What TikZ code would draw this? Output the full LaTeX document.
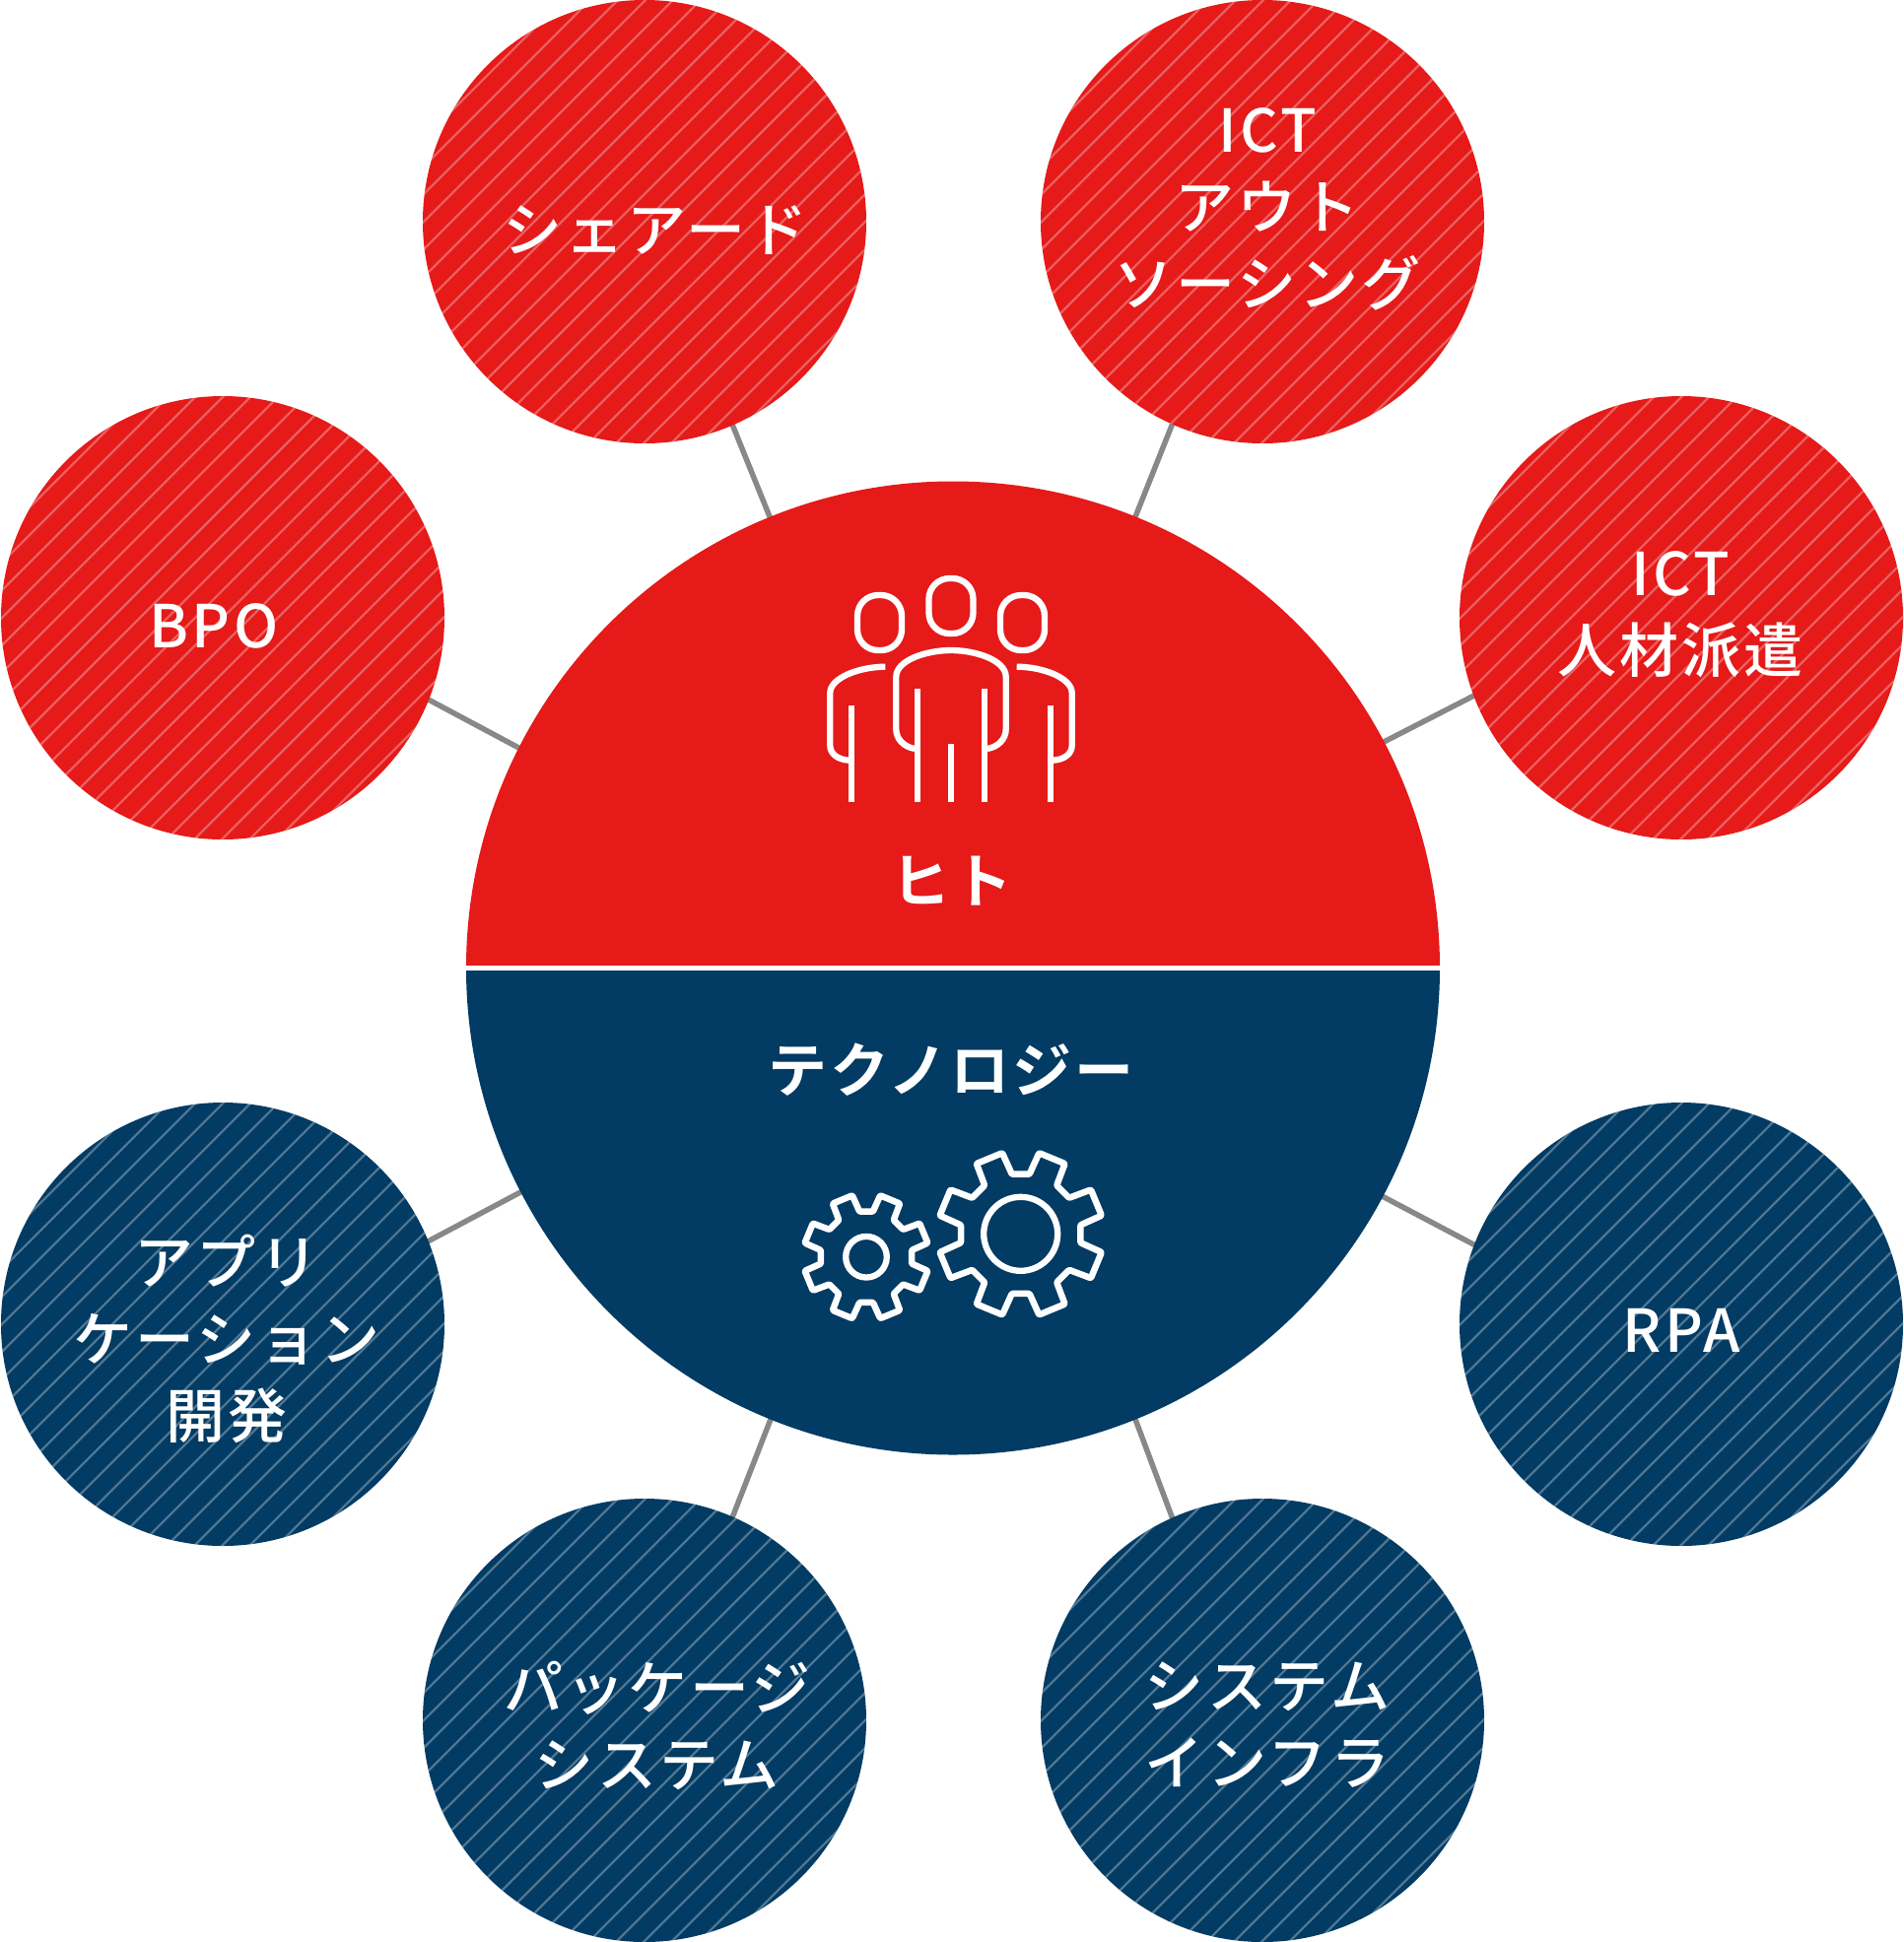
\documentclass[tikz,border=0pt]{standalone}
\usepackage{fontspec}
\setmainfont{Noto Sans CJK JP Medium}[LetterSpace=5.5]
\newfontfamily\headfont{Noto Sans CJK JP Bold}[LetterSpace=5]
\usetikzlibrary{backgrounds}
\definecolor{redc}{HTML}{E51A19}
\definecolor{navyc}{HTML}{023B63}
\definecolor{linkc}{HTML}{888888}
\tikzset{
  x=1pt,y=-1pt,
  hatchline/.style={draw=white,opacity=0.3,line width=2.2pt},
  sat/.style={circle,minimum size=450pt,inner sep=0pt,outer sep=0pt,
    path picture={\begin{scope}[shift={(path picture bounding box.center)}]
      \foreach \d in {-392,-364,...,392}{\draw[hatchline] (-300+\d,300)--(300+\d,-300);}
    \end{scope}}},
  redsat/.style={sat,fill=redc},
  navysat/.style={sat,fill=navyc},
  lab/.style={text=white,align=center,font=\fontsize{60}{78}\selectfont,inner sep=0pt},
  head/.style={text=white,align=center,font=\fontsize{60}{78}\selectfont\headfont,inner sep=0pt},
  link/.style={draw=linkc,line width=5.5pt,shorten <=-3pt,shorten >=-3pt},
  icon/.style={draw=white,line width=6.3pt},
  gearline/.style={draw=white,rounded corners=1pt,line join=round},
}
\newcommand{\gearpath}[3]{%
  \begin{scope}[shift={(#1,#2)},scale=#3]
  \draw[gearline,line width=6.5pt] (22.5-14.1:61.3)
    \foreach \t in {22.5,67.5,112.5,157.5,202.5,247.5,292.5,337.5}{
      -- (\t-14.1:61.3) -- (\t-9.7:84.2) -- (\t+9.7:84.2) -- (\t+14.1:61.3)
    } -- cycle;
  \end{scope}}
\newcommand{\spoke}[3]{\draw[link] ([shift={(#2:225pt)}]#1.center) -- ([shift={(#3:494pt)}]hub.center);}
\begin{document}
\begin{tikzpicture}
\useasboundingbox (0,0) rectangle (1932,1971);
% hub
\node[circle,minimum size=988pt,inner sep=0pt,outer sep=0pt] (hub) at (967,982.5) {};
\begin{scope}
  \clip (0,0) rectangle (1932,979.5);
  \fill[redc] (hub.center) circle[radius=494pt];
\end{scope}
\begin{scope}
  \clip (0,985) rectangle (1932,1971);
  \fill[navyc] (hub.center) circle[radius=494pt];
\end{scope}
% satellites
\node[redsat] (bpo) at (226,627) {};
\node[redsat] (shared) at (654,225) {};
\node[redsat] (ictout) at (1281,225) {};
\node[redsat] (ictstaff) at (1706,627) {};
\node[navysat] (app) at (226,1344) {};
\node[navysat] (pkg) at (654,1746) {};
\node[navysat] (sys) at (1281,1746) {};
\node[navysat] (rpa) at (1706,1344) {};
% connectors
\begin{pgfonlayer}{background}
\spoke{bpo}{-21.7}{153.1}
\spoke{shared}{-66.6}{112.1}
\spoke{ictout}{-114}{68}
\spoke{ictstaff}{-159.4}{27.7}
\spoke{app}{22}{207.4}
\spoke{pkg}{66.6}{248}
\spoke{sys}{114}{-68}
\spoke{rpa}{159}{-28}
\end{pgfonlayer}
% labels
\node[lab] (tbpo) at (217,635) {BPO};
\node[lab] (tshared) at (665,234) {シェアード};
\node[lab] (tictout) at (1286,212) {ICT\\アウト\\ソーシング};
\node[lab] (tictstaff) at (1705,624) {ICT\\人材派遣};
\node[lab] (tapp) at (230,1359) {アプリ\\ケーション\\開発};
\node[lab] (tpkg) at (667,1751) {パッケージ\\システム};
\node[lab] (tsys) at (1286,1751) {システム\\インフラ};
\node[lab] (trpa) at (1706,1350) {RPA};
\node[head] (thito) at (966,894) {ヒト};
\node[head] (ttech) at (965,1086) {テクノロジー};
% people icon
\draw[icon,rounded corners=21pt] (870,604) rectangle (915,660);
\draw[icon,rounded corners=21pt] (942.5,587) rectangle (987.5,643);
\draw[icon,rounded corners=21pt] (1015,604) rectangle (1060,660);
\draw[icon] (928.3,760) .. controls (917,758) and (909.3,750) .. (909.3,740) -- (909.3,687)
  .. controls (909.3,670) and (940,660) .. (965,660)
  .. controls (990,660) and (1020.7,670) .. (1020.7,687) -- (1020.7,740)
  .. controls (1020.7,750) and (1013,758) .. (1001.7,760);
\draw[icon] (931.3,699) -- (931.3,814);
\draw[icon] (998.7,699) -- (998.7,814);
\draw[icon] (965,755) -- (965,814);
\draw[icon] (898.3,676.7) .. controls (872,676.7) and (842.3,688) .. (842.3,703.3) -- (842.3,756.7)
  .. controls (842.3,765) and (850,771) .. (861.7,771.7);
\draw[icon] (864.3,715.7) -- (864.3,814);
\draw[icon] (1031.7,676.7) .. controls (1058,676.7) and (1087.7,688) .. (1087.7,703.3) -- (1087.7,756.7)
  .. controls (1087.7,765) and (1080,771) .. (1068.3,771.7);
\draw[icon] (1065.7,715.7) -- (1065.7,814);
% gears
\gearpath{1035.7}{1252.3}{1}
\draw[icon] (1035.7,1252.3) circle[radius=37.5pt];
\gearpath{879}{1275.7}{0.76}
\draw[icon] (879,1275.7) circle[radius=20.8pt];
\end{tikzpicture}
\end{document}
